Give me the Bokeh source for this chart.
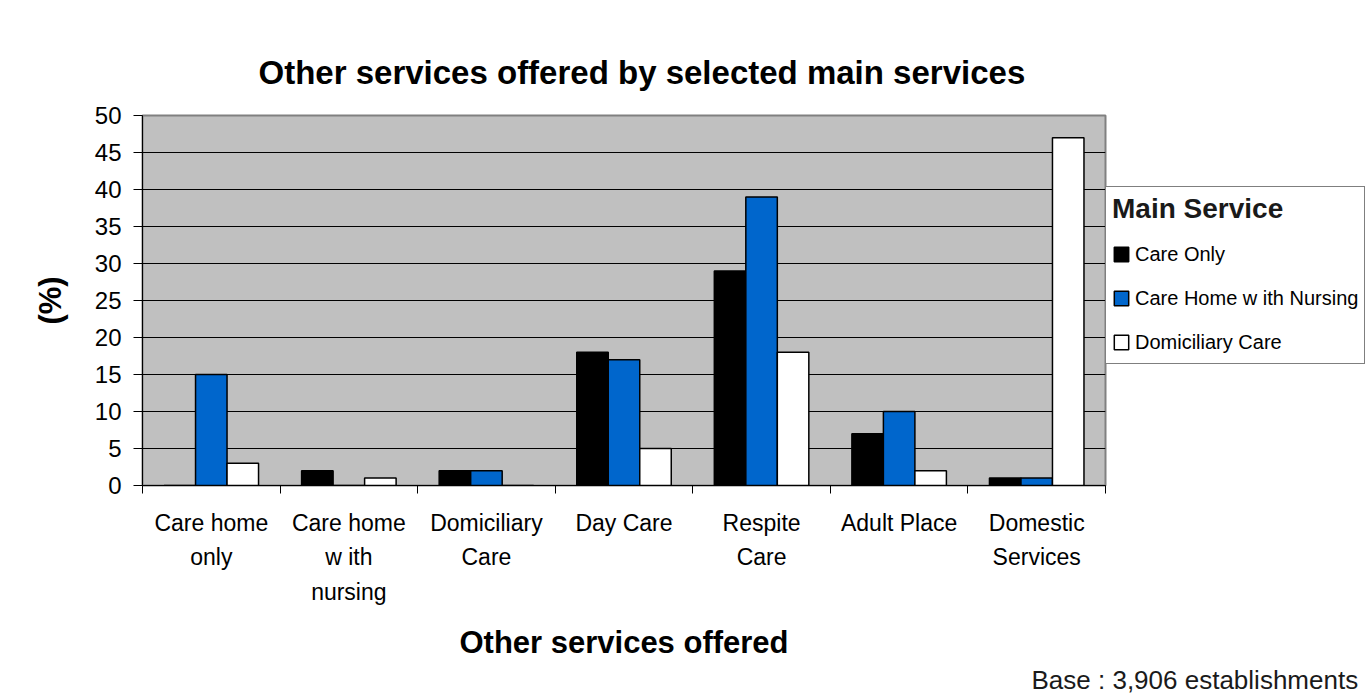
from bokeh.plotting import figure
from bokeh.models import (Range1d, FixedTicker, ColumnDataSource, Title,
                          Legend, LegendItem, LinearAxis)
from bokeh.embed import file_html
from bokeh.resources import INLINE

# ---------------- data ----------------
categories = ["Care home\nonly", "Care home\nw ith\nnursing", "Domiciliary\nCare",
              "Day Care", "Respite\nCare", "Adult Place", "Domestic\nServices"]
series_names = ["Care Only", "Care Home w ith Nursing", "Domiciliary Care"]
care_only = [0, 2, 2, 18, 29, 7, 1]
care_home_nursing = [15, 0, 2, 17, 39, 10, 1]
domiciliary_care = [3, 1, 0, 5, 18, 2, 47]
y_ticks = [0, 5, 10, 15, 20, 25, 30, 35, 40, 45, 50]
title_text = "Other services offered by selected main services"
x_title = "Other services offered"
y_title = "(%)"
legend_title = "Main Service"
base_note = "Base : 3,906 establishments"

FONT = "Liberation Sans"
colors = ["#000000", "#0066CC", "#FFFFFF"]
series = [care_only, care_home_nursing, domiciliary_care]
n = len(categories)
centers = [i + 0.5 for i in range(n)]

p = figure(frame_width=963, frame_height=370, output_backend="svg",
           toolbar_location=None, title=None,
           x_range=Range1d(0, n), y_range=Range1d(0, 50), x_axis_location=None,
           min_border_left=142, min_border_right=0, min_border_top=115,
           min_border_bottom=210)
p.background_fill_color = "#C0C0C0"
p.border_fill_color = "#FFFFFF"
p.outline_line_color = "#808080"
p.outline_line_width = 2

# title
p.add_layout(Title(text=title_text, align="left", offset=116, standoff=50,
                   text_font=FONT, text_font_style="bold", text_font_size="33px",
                   text_color="#000000"), "above")

# y axis
p.yaxis.ticker = FixedTicker(ticks=y_ticks)
p.yaxis.major_tick_out = 9
p.yaxis.major_tick_in = 0
p.yaxis.minor_tick_line_color = None
p.yaxis.major_label_standoff = 12
p.yaxis.major_label_text_font = FONT
p.yaxis.major_label_text_font_size = "24px"
p.yaxis.major_label_text_color = "#000000"
p.yaxis.axis_line_color = "#000000"
p.yaxis.major_tick_line_color = "#000000"
p.yaxis.axis_label = y_title
p.yaxis.axis_label_text_font = FONT
p.yaxis.axis_label_text_font_style = "bold"
p.yaxis.axis_label_text_font_size = "31px"
p.yaxis.axis_label_text_color = "#000000"
p.yaxis.axis_label_standoff = 24

# x axis: category names at the centres, tick marks at the boundaries
ax = LinearAxis(ticker=FixedTicker(ticks=centers, minor_ticks=list(range(n + 1))),
                major_label_overrides={c: t for c, t in zip(centers, categories)},
                major_tick_out=0, major_tick_in=0, minor_tick_out=8, minor_tick_in=0,
                axis_line_color="#000000", major_tick_line_color=None,
                minor_tick_line_color="#000000", major_label_standoff=16,
                major_label_text_font=FONT, major_label_text_font_size="23px",
                major_label_text_color="#000000", major_label_text_line_height=1.33,
                axis_label=x_title, axis_label_standoff=17, axis_label_text_font=FONT,
                axis_label_text_font_style="bold", axis_label_text_font_size="31px",
                axis_label_text_color="#000000")
p.add_layout(ax, "below")

# base note under the axis title
p.add_layout(Title(text=base_note, align="left", offset=889, standoff=0,
                   text_font=FONT, text_font_style="normal", text_font_size="26px",
                   text_color="#1a1a1a"), "below")

p.xgrid.grid_line_color = None
p.ygrid.ticker = FixedTicker(ticks=y_ticks)
p.ygrid.grid_line_color = "#000000"
p.ygrid.grid_line_width = 1

bw = 0.229
offsets = [-bw, 0.0, bw]
bars = []
for vals, col, off in zip(series, colors, offsets):
    src = ColumnDataSource(dict(x=[c + off for c in centers], top=vals))
    bars.append(p.vbar(x="x", top="top", bottom=0, width=bw, source=src,
                       fill_color=col, line_color="#000000", line_width=1.5))

legend = Legend(items=[LegendItem(label=nm, renderers=[r]) for nm, r in zip(series_names, bars)],
                location=(0, 121), orientation="vertical",
                title=legend_title, title_text_font=FONT, title_text_font_style="bold",
                title_text_font_size="28px", title_text_color="#1a1a1a", title_standoff=14,
                label_text_font=FONT, label_text_font_size="20px", label_text_color="#000000",
                glyph_width=18, glyph_height=18, label_height=30, label_standoff=5,
                spacing=14, padding=6, margin=0,
                border_line_color="#000000", border_line_width=1,
                background_fill_color="#FFFFFF", background_fill_alpha=1)
p.add_layout(legend, "right")

open("out.html", "w").write(file_html(p, INLINE))
